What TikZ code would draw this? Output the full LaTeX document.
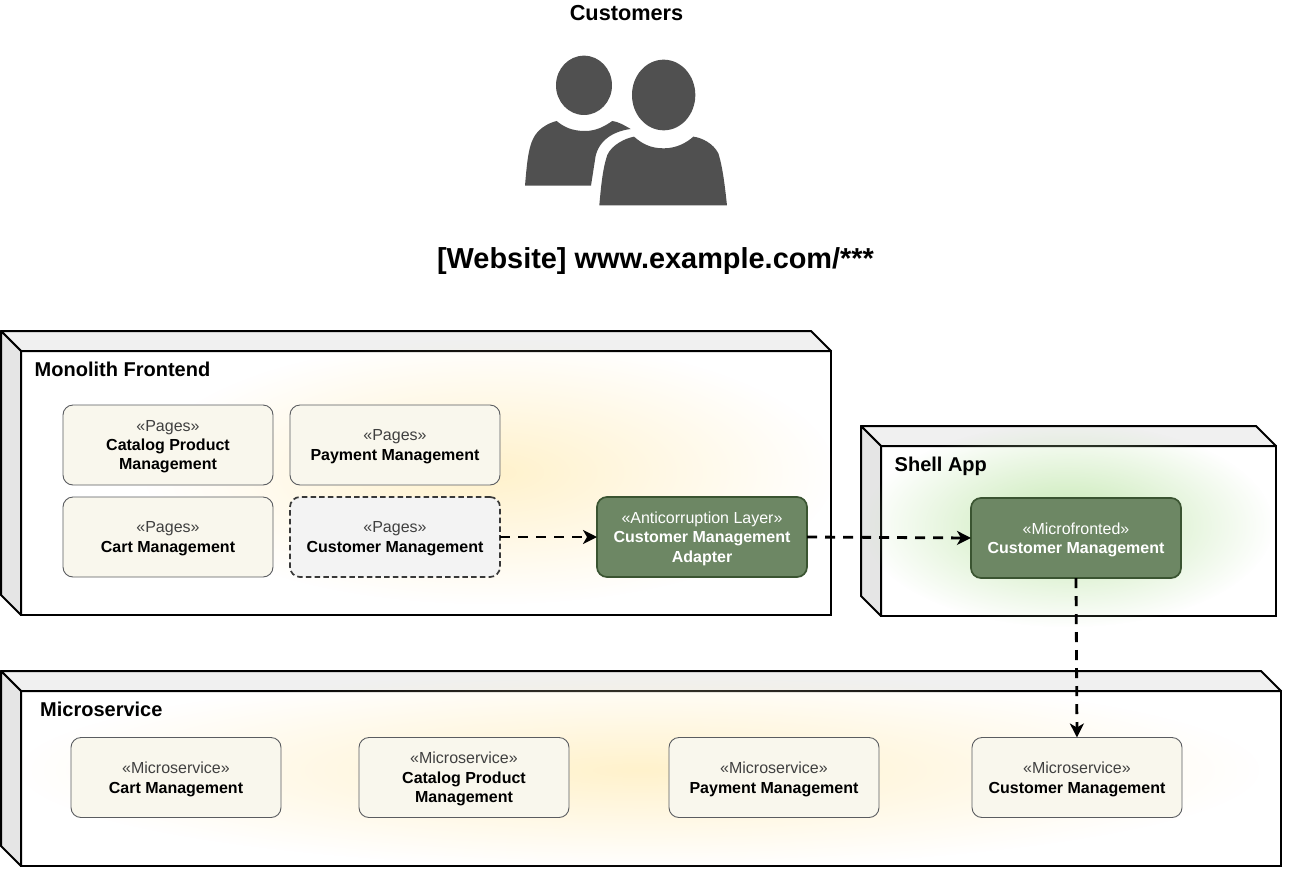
\documentclass[tikz,border=0pt]{standalone}
\usepackage{fontspec}
\setmainfont{Liberation Sans}
\usetikzlibrary{calc,fadings,arrows.meta}
\definecolor{boxfill}{HTML}{F9F7ED}
\definecolor{boxline}{HTML}{5A5C60}
\definecolor{grayfill}{HTML}{F3F3F3}
\definecolor{greenfill}{HTML}{6D8764}
\definecolor{greenline}{HTML}{3A5431}
\definecolor{iconc}{HTML}{505050}
\definecolor{yglow}{HTML}{FFF2CC}
\definecolor{gglow}{HTML}{C4E8B0}
\newcommand{\stereotx}[1]{\textcolor{black!75}{#1}}
\tikzfading[name=glowfade,inner color=transparent!0,outer color=transparent!100]
\tikzset{
  x=1pt,y=-1pt,
  every node/.style={font=\fontsize{16}{19.4}\selectfont,inner sep=0pt},
  front/.style={draw=black,line width=2pt,outer sep=0pt,minimum width=#1,anchor=north west},
  frontface/.style={draw=black,line width=2pt,line join=round},
  comp/.style={rectangle,rounded corners=10pt,outer sep=0pt,minimum width=210pt,minimum height=80pt,align=center,anchor=north west,line width=0.9pt,text depth=0pt},
  cream/.style={comp,draw=boxline,fill=boxfill,text=black},
  greyd/.style={comp,draw=black!78,fill=grayfill,dash pattern=on 5.5pt off 3.2pt,line width=1.7pt,text=black},
  greenb/.style={comp,draw=greenline,fill=greenfill,text=white,line width=1.7pt},
  title/.style={font=\fontsize{20}{22}\selectfont\bfseries,anchor=west},
  flow/.style={draw=black,line width=2.8pt,dash pattern=on 10pt off 8pt,-{Stealth[length=14pt,width=14pt,inset=4pt]}},
  glow/.style={path fading=glowfade,fill=#1},
}
\begin{document}
\begin{tikzpicture}
\useasboundingbox (0,0) rectangle (1291,868);
\fill[white] (0,0) rectangle (1291,868);
% container fronts, placed first so that the faces can refer to them
\node[front=810pt,minimum height=264pt] (mono) at (21,351) {};
\node[front=395pt,minimum height=170pt] (shell) at (881,446) {};
\node[front=1260pt,minimum height=175pt] (ms) at (21,691) {};
\foreach \n in {mono,shell,ms}{
  \draw[frontface,fill=black!6] ($(\n.north west)+(-20,-20)$) -- ($(\n.north east)+(-20,-20)$) -- (\n.north east) -- (\n.north west) -- cycle;
  \draw[frontface,fill=black!10] ($(\n.north west)+(-20,-20)$) -- ($(\n.south west)+(-20,-20)$) -- (\n.south west) -- (\n.north west) -- cycle;
}
% glows
\fill[glow=yglow] (490,472) ellipse [x radius=345pt,y radius=132pt];
\fill[glow=gglow] (1068,525) ellipse [x radius=205pt,y radius=102pt];
\fill[glow=yglow] (640,770) ellipse [x radius=620pt,y radius=98pt];
% titles
\node[font=\fontsize{21.7}{24}\selectfont\bfseries] (cust) at (626.5,13.5) {Customers};
\node[font=\fontsize{28.9}{32}\selectfont\bfseries] (web) at (655.5,261.5) {[Website] www.example.com/***};
\node[title] (t1) at (34.5,369) {Monolith Frontend};
\node[title] (t2) at (894.5,466.5) {Shell App};
\node[title] (t3) at (40,709) {Microservice};
% icon
\begin{scope}[shift={(500,40)},x=0.3333pt,y=-0.3333pt]
\fill[iconc] (252,136) ellipse [x radius=84,y radius=89];
\fill[iconc] (75,437) .. controls (80,380) and (84,325) .. (100,295) .. controls (112,270) and (140,250) .. (170,243) .. controls (190,260) and (215,273) .. (255,273) .. controls (290,273) and (315,258) .. (337,243) .. controls (355,245) and (375,257) .. (392,267) .. controls (330,275) and (290,310) .. (285,360) -- (273,437) -- cycle;
\fill[iconc] (491,165) ellipse [x radius=95,y radius=106];
\fill[iconc] (298,496) .. controls (303,440) and (308,385) .. (322,345) .. controls (335,315) and (375,295) .. (402,290) .. controls (425,310) and (450,325) .. (491,325) .. controls (530,325) and (560,308) .. (580,290) .. controls (605,293) and (640,310) .. (655,340) .. controls (668,380) and (675,440) .. (681,496) -- cycle;
\end{scope}
% components
\node[cream] (p1) at (63,405) {\stereotx{«Pages»}\\\textbf{Catalog Product}\\\textbf{Management}};
\node[cream] (p2) at (290,405) {\stereotx{«Pages»}\\\textbf{Payment Management}};
\node[cream] (p3) at (63,497) {\stereotx{«Pages»}\\\textbf{Cart Management}};
\node[greyd] (p4) at (290,497) {\stereotx{«Pages»}\\\textbf{Customer Management}};
\node[greenb] (adapter) at (597,497) {«Anticorruption Layer»\\\textbf{Customer Management}\\\textbf{Adapter}};
\node[greenb] (mf) at (971,498) {«Microfronted»\\\textbf{Customer Management}};
\node[cream] (m1) at (71,737.5) {\stereotx{«Microservice»}\\\textbf{Cart Management}};
\node[cream] (m2) at (359,737.5) {\stereotx{«Microservice»}\\\textbf{Catalog Product}\\\textbf{Management}};
\node[cream] (m3) at (669,737.5) {\stereotx{«Microservice»}\\\textbf{Payment Management}};
\node[cream] (m4) at (972,737.5) {\stereotx{«Microservice»}\\\textbf{Customer Management}};
% connectors
\draw[flow] (p4.east) -- (adapter.west);
\draw[flow] (adapter.east) -- (mf.west);
\draw[flow] (mf.south) -- (m4.north);
\end{tikzpicture}
\end{document}
